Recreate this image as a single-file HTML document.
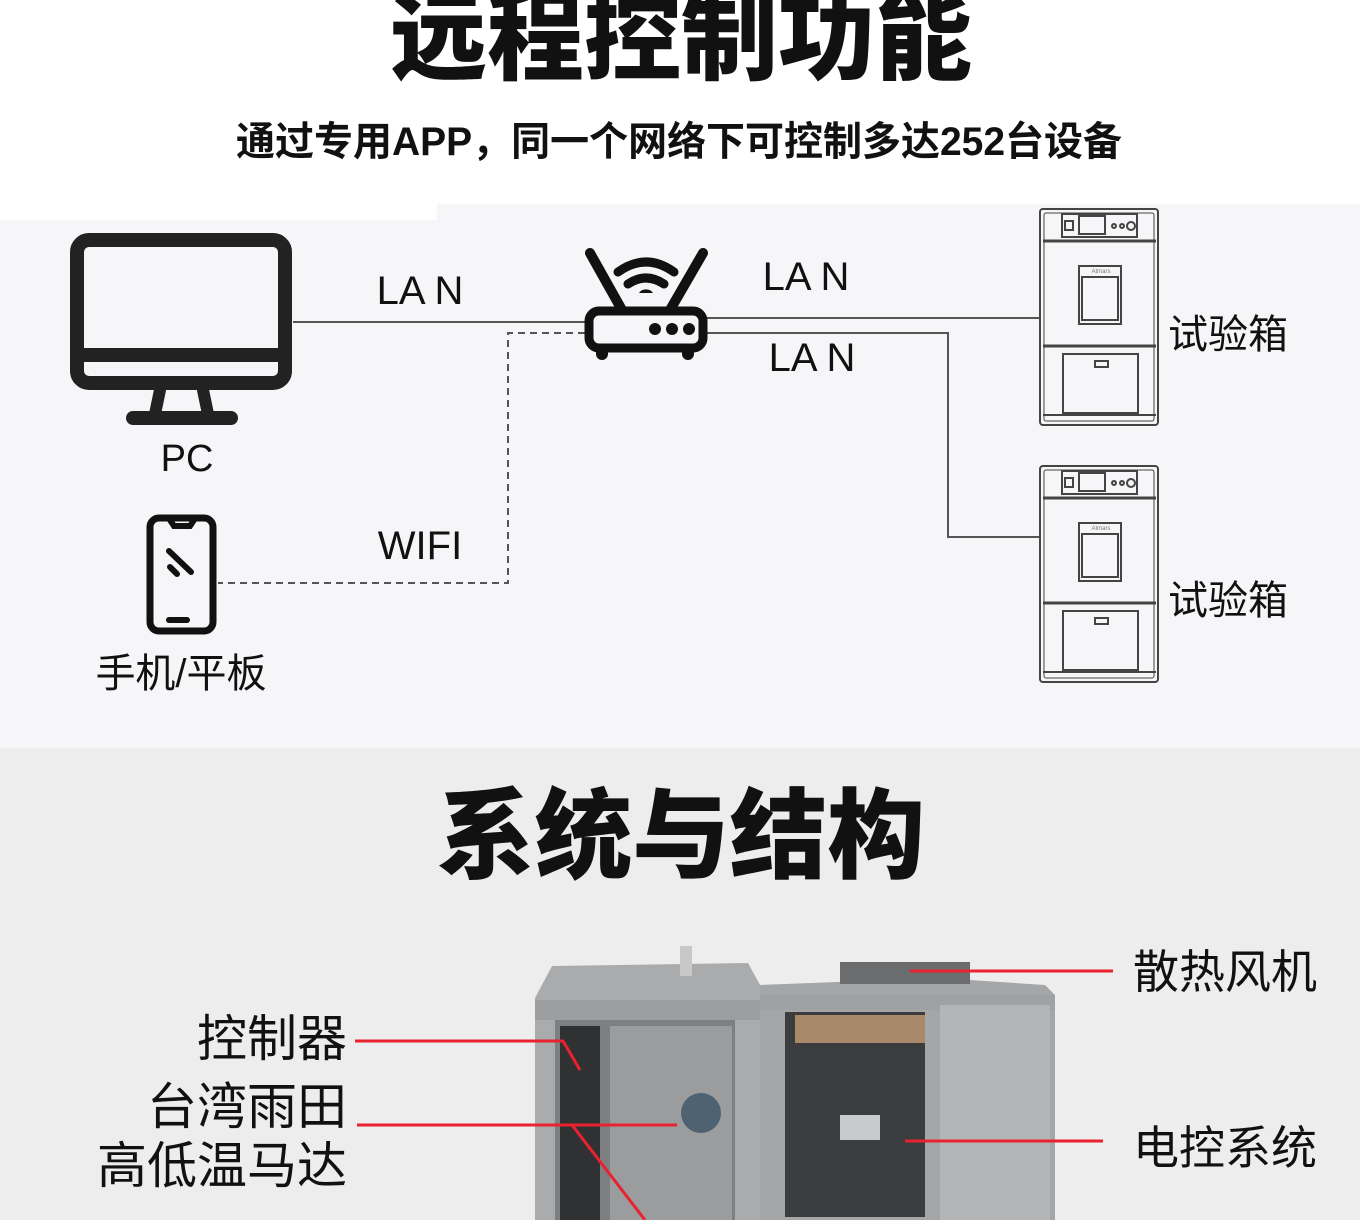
<!DOCTYPE html>
<html><head><meta charset="utf-8"><style>
html,body{margin:0;padding:0;background:#fff}
svg{display:block}
text{font-family:"Liberation Sans","Noto Sans CJK SC",sans-serif}
</style></head><body>
<svg width="1360" height="1220" viewBox="0 0 1360 1220" xmlns="http://www.w3.org/2000/svg">
<rect x="0" y="0" width="1360" height="1220" fill="#ffffff"/>
<rect x="0" y="220" width="1360" height="528" fill="#f6f6f8"/>
<rect x="437" y="204" width="923" height="20" fill="#f6f6f8"/>
<rect x="0" y="748" width="1360" height="472" fill="#eeedee"/>

<text x="681" y="72" text-anchor="middle" font-size="97" font-weight="900" fill="#111" textLength="582" lengthAdjust="spacingAndGlyphs">远程控制功能</text>
<text x="679" y="155" text-anchor="middle" font-size="40" font-weight="bold" fill="#111" textLength="886" lengthAdjust="spacingAndGlyphs">通过专用APP，同一个网络下可控制多达252台设备</text>

<!-- PC monitor -->
<g fill="none" stroke="#222" stroke-linecap="round" stroke-linejoin="round">
<rect x="77" y="240" width="208" height="143" rx="12" stroke-width="14"/>
<line x1="77" y1="355" x2="285" y2="355" stroke-width="14"/>
<path d="M160 390 L155 414 M203 390 L208 414" stroke-width="12"/>
<line x1="133" y1="418" x2="231" y2="418" stroke-width="14"/>
</g>
<text x="187" y="471" text-anchor="middle" font-size="38" fill="#111">PC</text>

<!-- phone -->
<g fill="none" stroke="#111" stroke-linecap="round">
<rect x="150" y="518" width="63" height="113" rx="9" stroke-width="7"/>
<path d="M170 520 L174 526 L190 526 L194 520" stroke-width="6"/>
<line x1="169" y1="620" x2="187" y2="620" stroke-width="6"/>
<line x1="169" y1="551" x2="191" y2="572" stroke-width="6"/>
<line x1="170" y1="567" x2="177" y2="574" stroke-width="6"/>
</g>
<text x="181" y="687" text-anchor="middle" font-size="40" fill="#111">手机/平板</text>

<!-- lines -->
<g stroke="#555" stroke-width="2" fill="none">
<line x1="293" y1="322" x2="588" y2="322"/>
<line x1="705" y1="318" x2="1040" y2="318"/>
<polyline points="705,333 948,333 948,537 1040,537"/>
<polyline points="585,333 508,333 508,583 218,583" stroke-dasharray="7,5"/>
</g>
<text x="420" y="304" text-anchor="middle" font-size="40" fill="#111">LA N</text>
<text x="806" y="290" text-anchor="middle" font-size="40" fill="#111">LA N</text>
<text x="812" y="371" text-anchor="middle" font-size="40" fill="#111">LA N</text>
<text x="420" y="559" text-anchor="middle" font-size="40" fill="#111">WIFI</text>

<!-- router -->
<g stroke="#111" fill="none" stroke-linecap="round">
<line x1="590" y1="253" x2="622" y2="310" stroke-width="10"/>
<line x1="703" y1="253" x2="670" y2="310" stroke-width="10"/>
<path d="M618 272 Q646 252 674 272" stroke-width="9"/>
<path d="M628 284 Q646 272 664 284" stroke-width="9"/>
<rect x="589" y="311" width="114" height="37" rx="10" stroke-width="9"/>
<path d="M602 350 L602 354 M688 350 L688 354" stroke-width="12"/>
</g>
<circle cx="655" cy="329" r="6" fill="#111"/><circle cx="672" cy="329" r="6" fill="#111"/><circle cx="689" cy="329" r="6" fill="#111"/>
<path d="M639 293 a8 7 0 0 1 14 0z" fill="#111"/>

<!-- chambers -->
<g id="ch" fill="none" stroke="#444" stroke-width="2">
<rect x="1040" y="209" width="118" height="216" rx="3"/>
<rect x="1044" y="213" width="110" height="208" rx="2" stroke-width="1"/>
<line x1="1043" y1="241" x2="1156" y2="241" stroke-width="3"/>
<rect x="1062" y="214" width="75" height="23"/>
<rect x="1065" y="221" width="8" height="9"/>
<rect x="1079" y="216" width="26" height="18"/>
<circle cx="1114" cy="226" r="2"/><circle cx="1122" cy="226" r="2"/><circle cx="1131" cy="226" r="4"/>
<rect x="1079" y="266" width="42" height="58"/>
<rect x="1082" y="277" width="36" height="43"/>
<line x1="1043" y1="346" x2="1156" y2="346" stroke-width="3"/>
<rect x="1063" y="354" width="75" height="59"/>
<rect x="1095" y="361" width="13" height="6"/>
<line x1="1043" y1="415" x2="1156" y2="415"/>
</g>
<text x="1101" y="273" text-anchor="middle" font-size="6" fill="#777">Atmars</text>
<use href="#ch" x="0" y="257"/>
<text x="1101" y="530" text-anchor="middle" font-size="6" fill="#777">Atmars</text>
<text x="1168" y="348" font-size="40" fill="#111">试验箱</text>
<text x="1168" y="614" font-size="40" fill="#111">试验箱</text>

<text x="681" y="870" text-anchor="middle" font-size="98" font-weight="900" fill="#111" textLength="488" lengthAdjust="spacingAndGlyphs">系统与结构</text>

<!-- machine -->
<path d="M552 966 L748 963 L760 985 L760 1220 L535 1220 L535 998 Z" fill="#a9abad"/>
<rect x="680" y="946" width="12" height="30" fill="#c8c8c8"/>
<path d="M760 985 L940 978 L1045 985 L1055 995 L1055 1220 L760 1220 Z" fill="#a4a6a8"/>
<rect x="535" y="1000" width="225" height="20" fill="#9c9ea0"/>
<rect x="760" y="995" width="295" height="15" fill="#9fa1a3"/>
<rect x="555" y="1020" width="180" height="200" fill="#7d7f81"/>
<rect x="560" y="1026" width="40" height="194" fill="#2f3133"/>
<rect x="610" y="1026" width="122" height="194" fill="#9a9c9e"/>
<circle cx="701" cy="1113" r="20" fill="#4f6272"/>
<rect x="785" y="1012" width="140" height="205" fill="#3a3c3e"/>
<rect x="795" y="1015" width="130" height="28" fill="#a88a6a"/>
<rect x="840" y="1115" width="40" height="25" fill="#c8cacc"/>
<rect x="940" y="1005" width="110" height="215" fill="#b3b5b7"/>
<rect x="840" y="962" width="130" height="22" fill="#6a6c6e"/>

<!-- red leaders -->
<g stroke="#e8232f" stroke-width="3" fill="none">
<line x1="910" y1="971" x2="1113" y2="971"/>
<polyline points="355,1041 563,1041 580,1070"/>
<line x1="357" y1="1125" x2="677" y2="1125"/>
<line x1="572" y1="1125" x2="645" y2="1220"/>
<line x1="905" y1="1141" x2="1103" y2="1141"/>
</g>
<text x="347" y="1056" text-anchor="end" font-size="50" fill="#111">控制器</text>
<text x="347" y="1124" text-anchor="end" font-size="50" fill="#111">台湾雨田</text>
<text x="347" y="1183" text-anchor="end" font-size="50" fill="#111">高低温马达</text>
<text x="1133" y="988" font-size="46" fill="#111">散热风机</text>
<text x="1133" y="1164" font-size="46" fill="#111">电控系统</text>
</svg>
</body></html>
